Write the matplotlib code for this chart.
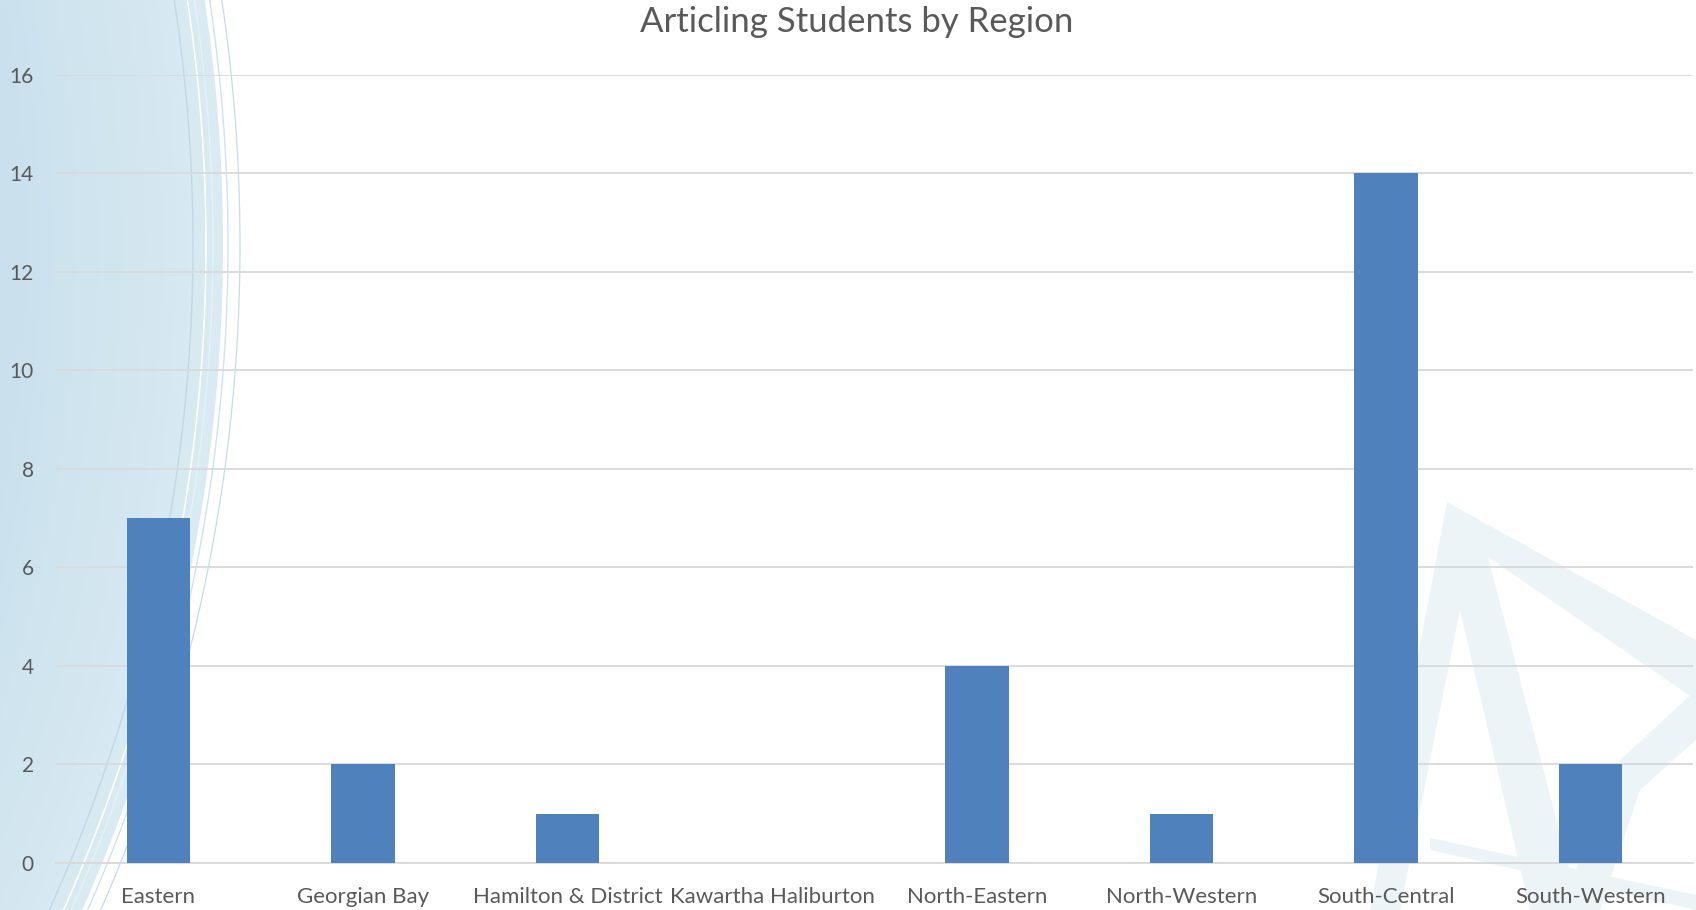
import numpy as np
import matplotlib
matplotlib.use('Agg')
import matplotlib.pyplot as plt
from matplotlib.patches import Polygon
from matplotlib.colors import to_rgb

# data
regions = ['Eastern', 'Georgian Bay', 'Hamilton & District', 'Kawartha Haliburton',
           'North-Eastern', 'North-Western', 'South-Central', 'South-Western']
students = [7, 2, 1, 0, 4, 1, 14, 2]
y_ticks = [0, 2, 4, 6, 8, 10, 12, 14, 16]

W, H = 1696, 910
plt.rcParams['font.family'] = ['Lato', 'DejaVu Sans']
txt = '#595959'

fig = plt.figure(figsize=(W / 100, H / 100), dpi=100, facecolor='white')


def fx(x, y):
    # pixel (y down) -> figure fraction
    return (x / W, 1 - y / H)


def arc_poly(rr, cx=-1417, cy=245):
    ang = np.linspace(-0.6, 0.6, 400)
    xs = cx + rr * np.cos(ang)
    ys = cy + rr * np.sin(ang)
    return [fx(a, b) for a, b in zip(xs, ys)]


# background decoration: left blue swoosh, smooth gradient
r = 1635
c_out = np.array(to_rgb('#d9eaf2'))
c_in = np.array(to_rgb('#cae1ed'))
n = 60
for i in range(n):
    t = i / (n - 1)
    rr = r + 5 - t * 200
    col = c_out * (1 - t) + c_in * t
    pts = [(0, 1.3)] + arc_poly(rr) + [(0, -0.3)]
    fig.patches.append(Polygon(pts, closed=True, transform=fig.transFigure,
                               facecolor=col, edgecolor='none', zorder=-5))
# thin arcs
for dr, col, lw in [(-25, '#c0d9e6', 1.0), (-12, '#ffffff', 1.2), (10, '#cfe3ed', 1.0),
                    (22, '#c5dce8', 0.9), (-5, '#e6f1f6', 1.0)]:
    pts = np.array(arc_poly(r + dr))
    fig.add_artist(plt.Line2D(pts[:, 0], pts[:, 1], transform=fig.transFigure,
                              color=col, lw=lw, zorder=-4))

# bottom-right faint triangles
tri_col = '#edf4f8'
shapes = [
    [(1447, 502), (1696, 640), (1696, 700), (1488, 557)],
    [(1447, 502), (1488, 557), (1580, 910), (1530, 910), (1460, 610), (1400, 910), (1370, 910)],
    [(1430, 838), (1696, 895), (1696, 910), (1430, 850)],
    [(1560, 910), (1620, 760), (1696, 690), (1696, 740), (1640, 790), (1600, 910)],
]
for s in shapes:
    fig.patches.append(Polygon([fx(a, b) for a, b in s], closed=True,
                               transform=fig.transFigure, facecolor=tri_col,
                               edgecolor='none', zorder=-5))

ax = fig.add_axes([56 / W, 1 - 863 / H, (1693 - 56) / W, (863 - 74.6) / H])
ax.patch.set_alpha(0)

x = np.arange(len(regions))
ax.bar(x, students, width=0.31, color='#4f81bd', zorder=3)

ax.set_xlim(-0.5, len(regions) - 0.5)
ax.set_ylim(0, 16)
ax.set_yticks(y_ticks)
ax.set_xticks(x)
ax.set_xticklabels(regions)
ax.grid(axis='y', color='#d9d9d9', lw=1.3, zorder=0)
for s in ['top', 'right', 'left']:
    ax.spines[s].set_visible(False)
ax.spines['bottom'].set_color('#d9d9d9')
ax.spines['bottom'].set_linewidth(1.3)
ax.tick_params(axis='both', length=0, colors=txt, labelsize=16)
ax.tick_params(axis='y', pad=16, labelsize=15)
ax.tick_params(axis='x', pad=17)

fig.text(857 / W, 1 - 21.6 / H, 'Articling Students by Region', ha='center',
         va='center', fontsize=25, color=txt)

fig.savefig('out.png', dpi=100, facecolor='white')
